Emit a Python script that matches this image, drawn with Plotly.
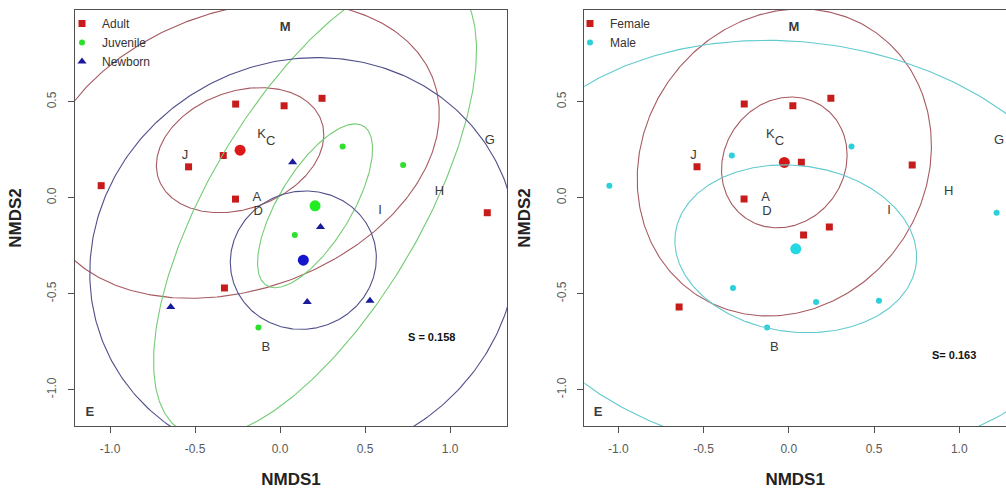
import numpy as np
import plotly.graph_objects as go

# ---------------- data ----------------
site_x = [-0.261, 0.024, 0.247, -0.334, -0.538, -1.052, -0.262, 1.219, -0.327,
          0.368, 0.724, 0.087, -0.127,
          0.074, 0.238, -0.643, 0.160, 0.529]
site_y = [0.488, 0.479, 0.518, 0.220, 0.161, 0.063, -0.007, -0.078, -0.470,
          0.267, 0.170, -0.194, -0.676,
          0.185, -0.152, -0.569, -0.543, -0.536]
age = ["Adult"] * 9 + ["Juvenile"] * 4 + ["Newborn"] * 5
sex = ["Female", "Female", "Female", "Male", "Female", "Male", "Female", "Male", "Male",
       "Male", "Female", "Female", "Male",
       "Female", "Female", "Female", "Male", "Male"]

age_groups = ["Adult", "Juvenile", "Newborn"]
sex_groups = ["Female", "Male"]

# group centroids
age_cx = [-0.235, 0.206, 0.137]
age_cy = [0.248, -0.042, -0.325]
sex_cx = [-0.026, 0.041]
sex_cy = [0.184, -0.266]

# ellipse shapes: inner (a, b, angle) and outer (a, b, angle)
age_inner_a = [0.503, 0.504, 0.43]
age_inner_b = [0.309, 0.206, 0.36]
age_inner_ang = [15, 54.3, 5]
age_outer_a = [1.197, 1.412, 1.262]
age_outer_b = [0.732, 0.599, 1.048]
age_outer_ang = [15, 54.8, 10]

sex_inner_a = [0.378, 0.711]
sex_inner_b = [0.33, 0.434]
sex_inner_ang = [27.5, -5.4]
sex_outer_a = [0.885, 1.781]
sex_outer_b = [0.775, 1.078]
sex_outer_ang = [27.5, -5.35]

# site labels
lab_text = ["M", "K", "C", "J", "A", "D", "I", "H", "G", "B", "E"]
lab_x = [0.030, -0.108, -0.055, -0.559, -0.136, -0.128, 0.589, 0.938, 1.234, -0.084, -1.118]
lab_y = [0.885, 0.327, 0.292, 0.219, 0.002, -0.074, -0.068, 0.031, 0.295, -0.779, -1.121]

stress_left = "S = 0.158"
stress_right = "S= 0.163"

tick_vals = [-1.0, -0.5, 0.0, 0.5, 1.0]
tick_text = ["-1.0", "-0.5", "0.0", "0.5", "1.0"]

# ---------------- styles ----------------
age_pt_col = ["#c81c1c", "#2ee02e", "#1a1a9c"]
age_cen_col = ["#dc1818", "#22ec22", "#1414cc"]
age_line_col = ["#a65a60", "#74cc74", "#50508a"]
age_sym = ["square", "circle", "triangle-up"]
age_size = [7, 6, 8]
sex_pt_col = ["#c81c1c", "#2ad0da"]
sex_cen_col = ["#d41818", "#22d8e2"]
sex_line_col = ["#a65a60", "#62cacf"]
sex_sym = ["square", "circle"]
sex_size = [7, 6]

FONT = "Liberation Sans, Arial, sans-serif"


def ellipse(cx, cy, a, b, ang):
    t = np.linspace(0, 2 * np.pi, 361)
    th = np.deg2rad(ang)
    x = cx + a * np.cos(t) * np.cos(th) - b * np.sin(t) * np.sin(th)
    y = cy + a * np.cos(t) * np.sin(th) + b * np.sin(t) * np.cos(th)
    return x, y


fig = go.Figure()

# ---------- left panel ----------
for i, g in enumerate(age_groups):
    xs = [x for x, a in zip(site_x, age) if a == g]
    ys = [y for y, a in zip(site_y, age) if a == g]
    fig.add_trace(go.Scatter(x=xs, y=ys, mode="markers", name=g,
                             marker=dict(symbol=age_sym[i], size=age_size[i], color=age_pt_col[i]),
                             xaxis="x", yaxis="y", legend="legend"))
for i, g in enumerate(age_groups):
    for (a, b, ang) in [(age_inner_a[i], age_inner_b[i], age_inner_ang[i]),
                        (age_outer_a[i], age_outer_b[i], age_outer_ang[i])]:
        ex, ey = ellipse(age_cx[i], age_cy[i], a, b, ang)
        fig.add_trace(go.Scatter(x=ex, y=ey, mode="lines", showlegend=False,
                                 line=dict(color=age_line_col[i], width=1.1),
                                 xaxis="x", yaxis="y", hoverinfo="skip"))
    fig.add_trace(go.Scatter(x=[age_cx[i]], y=[age_cy[i]], mode="markers", showlegend=False,
                             marker=dict(symbol="circle", size=11, color=age_cen_col[i]),
                             xaxis="x", yaxis="y"))

# ---------- right panel ----------
for i, g in enumerate(sex_groups):
    xs = [x for x, s in zip(site_x, sex) if s == g]
    ys = [y for y, s in zip(site_y, sex) if s == g]
    fig.add_trace(go.Scatter(x=xs, y=ys, mode="markers", name=g,
                             marker=dict(symbol=sex_sym[i], size=sex_size[i], color=sex_pt_col[i]),
                             xaxis="x2", yaxis="y2", legend="legend2"))
for i, g in enumerate(sex_groups):
    for (a, b, ang) in [(sex_inner_a[i], sex_inner_b[i], sex_inner_ang[i]),
                        (sex_outer_a[i], sex_outer_b[i], sex_outer_ang[i])]:
        ex, ey = ellipse(sex_cx[i], sex_cy[i], a, b, ang)
        fig.add_trace(go.Scatter(x=ex, y=ey, mode="lines", showlegend=False,
                                 line=dict(color=sex_line_col[i], width=1.1),
                                 xaxis="x2", yaxis="y2", hoverinfo="skip"))
    fig.add_trace(go.Scatter(x=[sex_cx[i]], y=[sex_cy[i]], mode="markers", showlegend=False,
                             marker=dict(symbol="circle", size=11, color=sex_cen_col[i]),
                             xaxis="x2", yaxis="y2"))

# ---------- site labels ----------
lab_fmt = [("<b>%s</b>" % t) if t in ("M", "E") else t for t in lab_text]
for xa, ya in [("x", "y"), ("x2", "y2")]:
    fig.add_trace(go.Scatter(x=lab_x, y=lab_y, mode="text", text=lab_fmt, showlegend=False,
                             textposition="middle center",
                             textfont=dict(family=FONT, size=13, color="#3a3a3a"),
                             xaxis=xa, yaxis=ya, hoverinfo="skip"))

fig.add_annotation(x=0.892, y=-0.727, xref="x", yref="y", text="<b>%s</b>" % stress_left,
                   showarrow=False, font=dict(family=FONT, size=11, color="#111"))
fig.add_annotation(x=0.970, y=-0.821, xref="x2", yref="y2", text="<b>%s</b>" % stress_right,
                   showarrow=False, font=dict(family=FONT, size=11, color="#111"))

W, H = 1006, 489
ydom = [1 - 426 / H, 1 - 10 / H]
axis_common = dict(showgrid=False, zeroline=False, showline=True, linecolor="#505050", linewidth=1,
                   ticks="outside", ticklen=6, tickcolor="#505050",
                   tickfont=dict(family=FONT, size=12, color="#5a5a5a"))
title_font = dict(family=FONT, size=17, color="#222")

fig.update_layout(
    width=W, height=H,
    margin=dict(l=0, r=0, t=0, b=0),
    paper_bgcolor="white", plot_bgcolor="white",
    font=dict(family=FONT),
    xaxis=dict(domain=[75 / W, 507 / W], range=[-1.206, 1.335], mirror=True,
               tickvals=tick_vals, ticktext=tick_text, ticklabelstandoff=6,
               title=dict(text="<b>NMDS1</b>", font=title_font, standoff=17),
               anchor="y", **axis_common),
    yaxis=dict(domain=ydom, range=[-1.189, 0.978], mirror=True,
               tickvals=tick_vals[:-1], ticktext=tick_text[:-1], tickangle=-90, ticklabelstandoff=7,
               title=dict(text="<b>NMDS2</b>", font=title_font, standoff=19),
               anchor="x", **axis_common),
    xaxis2=dict(domain=[584.3 / W, 1.0], range=[-1.199, 1.274], mirror=True,
                tickvals=tick_vals, ticktext=tick_text, ticklabelstandoff=6,
                title=dict(text="<b>NMDS1</b>", font=title_font, standoff=17),
                anchor="y2", **axis_common),
    yaxis2=dict(domain=ydom, range=[-1.189, 0.978], mirror=False,
                tickvals=tick_vals[:-1], ticktext=tick_text[:-1], tickangle=-90, ticklabelstandoff=7,
                title=dict(text="<b>NMDS2</b>", font=title_font, standoff=19),
                anchor="x2", **axis_common),
    legend=dict(x=62 / W, y=1 - 9 / H, xanchor="left", yanchor="top", bgcolor="rgba(0,0,0,0)",
                font=dict(family=FONT, size=12, color="#333"), tracegroupgap=0),
    legend2=dict(x=570 / W, y=1 - 9 / H, xanchor="left", yanchor="top", bgcolor="rgba(0,0,0,0)",
                 font=dict(family=FONT, size=12, color="#333"), tracegroupgap=0),
)

fig.write_html("out.html")
